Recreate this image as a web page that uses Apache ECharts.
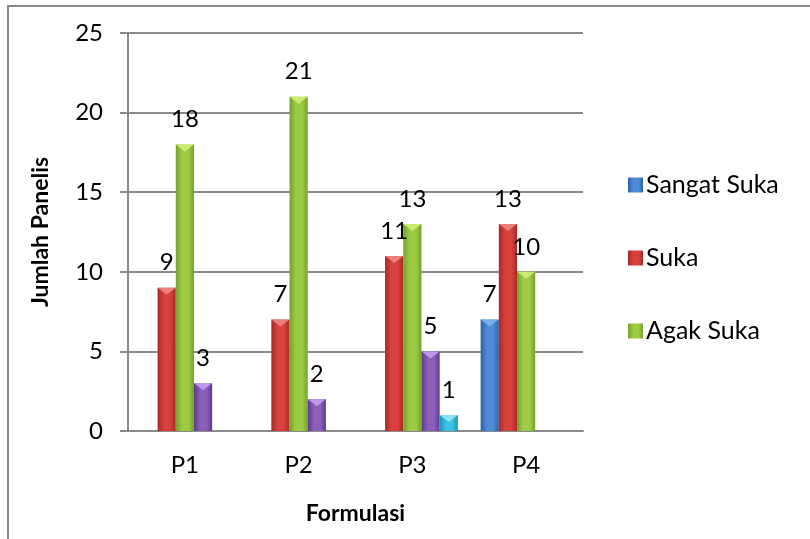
<!DOCTYPE html>
<html>
<head>
<meta charset="utf-8">
<script src="https://cdn.jsdelivr.net/npm/echarts@6/dist/echarts.min.js"></script>
<style>
  html, body { margin: 0; padding: 0; background: #fff; }
  #chart { width: 810px; height: 539px; }
</style>
</head>
<body>
<div id="chart"></div>
<script>
// Hedonic panel results per formulation
const categories = ['P1', 'P2', 'P3', 'P4'];
const sangatSuka = [null, null, null, 7];
const suka = [9, 7, 11, 13];
const agakSuka = [18, 21, 13, 10];
const biasa = [3, 2, 5, null];
const tidakSuka = [null, null, 1, null];

const yTicks = { min: 0, max: 25, interval: 5 };

const FONT = 'Lato';

// name, values, [edge, mid, cap]
const seriesDefs = [
  ['Sangat Suka', sangatSuka, ['#2E62A6', '#4F8BD6', '#7FB2EE']],
  ['Suka', suka, ['#A42A27', '#D8413D', '#F08A86']],
  ['Agak Suka', agakSuka, ['#76A02C', '#9DCB45', '#D2F07A']],
  ['Biasa', biasa, ['#5E3B85', '#8A5FBC', '#C6A2F0']],
  ['Tidak Suka', tidakSuka, ['#1C93B5', '#3CC2E4', '#9AE8FA']]
];

function shade(c) {
  return new echarts.graphic.LinearGradient(0, 0, 1, 0, [
    { offset: 0, color: c[0] },
    { offset: 0.35, color: c[1] },
    { offset: 0.7, color: c[1] },
    { offset: 1, color: c[0] }
  ]);
}

const barSeries = seriesDefs.map(([name, data, c]) => ({
  name,
  type: 'bar',
  data,
  barGap: '0%',
  barCategoryGap: '20%',
  itemStyle: { color: shade(c) },
  label: {
    show: true,
    position: 'top',
    distance: 13,
    color: '#000',
    fontFamily: FONT,
    fontSize: 24
  },
  z: 2
}));

// bevelled caps on each bar top
const capSeries = seriesDefs.map(([name, data, c]) => ({
  name: name + ' cap',
  type: 'pictorialBar',
  data,
  barGap: '0%',
  barCategoryGap: '20%',
  symbol: 'path://M0,0 L10,0 L5,10 Z',
  symbolSize: ['100%', 7],
  symbolPosition: 'end',
  symbolOffset: [0, 0],
  itemStyle: { color: c[2], opacity: 0.85 },
  silent: true,
  z: 3
}));

const chart = echarts.init(document.getElementById('chart'), null, { renderer: 'canvas' });
chart.setOption({
  animation: false,
  backgroundColor: '#fff',
  textStyle: { fontFamily: FONT },
  graphic: [{
    type: 'rect',
    shape: { x: 8, y: 6, width: 830, height: 560 },
    style: { fill: 'none', stroke: '#8a8a8a', lineWidth: 2 },
    silent: true
  }],
  grid: { left: 128, right: 227, top: 33, bottom: 108 },
  legend: {
    data: ['Sangat Suka', 'Suka', 'Agak Suka'],
    orient: 'vertical',
    left: 628,
    top: 170,
    padding: 0,
    itemWidth: 15,
    itemHeight: 15,
    itemGap: 43,
    icon: 'rect',
    textStyle: { fontFamily: FONT, fontSize: 25, color: '#000', lineHeight: 30, padding: [0, 0, 0, -2] }
  },
  xAxis: {
    type: 'category',
    data: categories,
    name: 'Formulasi',
    nameLocation: 'middle',
    nameGap: 71,
    nameTextStyle: { fontFamily: FONT, fontSize: 23, fontWeight: 'bold', color: '#000' },
    axisLine: { lineStyle: { color: '#8a8a8a', width: 2 } },
    axisTick: { show: false },
    axisLabel: { margin: 22, color: '#000', fontFamily: FONT, fontSize: 24 },
  },
  yAxis: {
    type: 'value',
    min: yTicks.min,
    max: yTicks.max,
    interval: yTicks.interval,
    name: 'Jumlah Panelis',
    nameLocation: 'middle',
    nameGap: 76,
    nameTextStyle: { fontFamily: FONT, fontSize: 23, fontWeight: 'bold', color: '#000' },
    axisLine: { show: true, lineStyle: { color: '#8a8a8a', width: 2 } },
    axisTick: { show: true, length: 8, lineStyle: { color: '#8a8a8a', width: 2 } },
    axisLabel: { margin: 25, color: '#000', fontFamily: FONT, fontSize: 24 },
    splitLine: { lineStyle: { color: '#8a8a8a', width: 2 } }
  },
  series: barSeries.concat(capSeries)
});
</script>
</body>
</html>
